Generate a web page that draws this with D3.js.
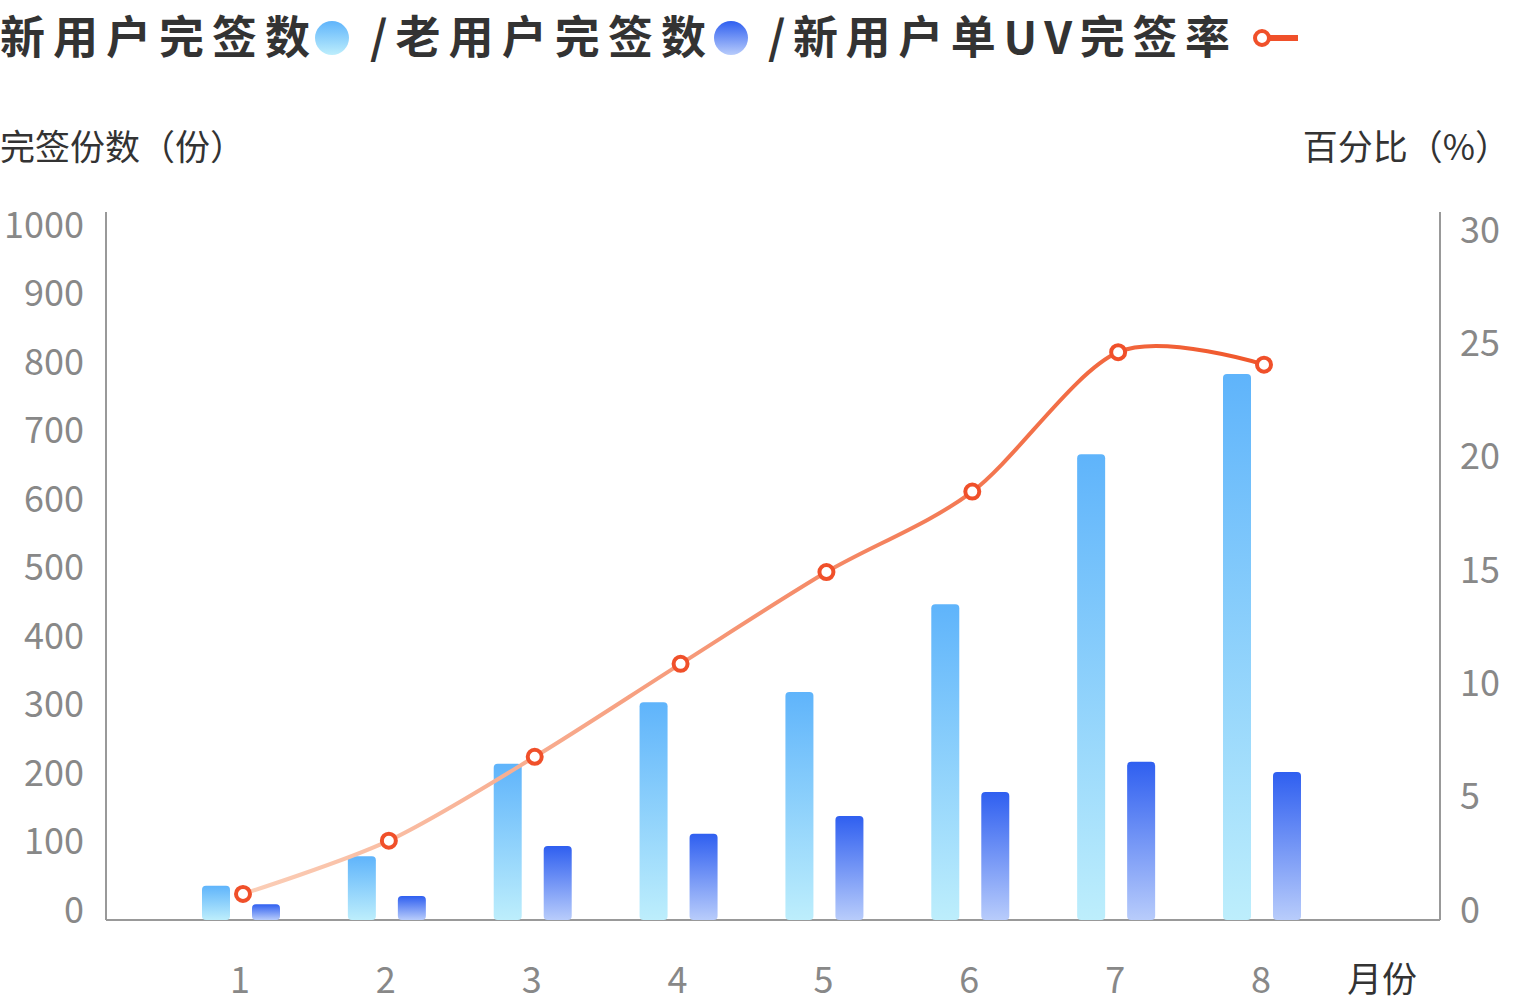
<!DOCTYPE html>
<html><head><meta charset="utf-8">
<script src="https://cdn.jsdelivr.net/npm/d3@7"></script>
<style>body{margin:0;background:#fff}text{font-family:"Noto Sans CJK SC","Noto Sans",sans-serif}</style>
</head><body>
<svg width="1532" height="1004"></svg>
<script>
var months = ["1", "2", "3", "4", "5", "6", "7", "8"];
var newUsers = [50, 93, 228, 318, 333, 461, 680, 797];
var oldUsers = [23, 35, 108, 126, 152, 187, 231, 216];
var newRate = [1.15, 3.5, 7.2, 11.3, 15.35, 18.9, 25.05, 24.5];
var leftTicks = [0, 100, 200, 300, 400, 500, 600, 700, 800, 900, 1000];
var rightTicks = [0, 5, 10, 15, 20, 25, 30];

var svg = d3.select("svg");
var defs = svg.append("defs");
function vgrad(id, top, bottom) {
    var g = defs.append("linearGradient").attr("id", id).attr("x1", 0).attr("y1", 0).attr("x2", 0).attr("y2", 1);
    g.append("stop").attr("offset", "0%").attr("stop-color", top);
    g.append("stop").attr("offset", "100%").attr("stop-color", bottom);
}
vgrad("gNew", "#5fb4fb", "#bdeefc");
vgrad("gOld", "#2f5ff0", "#b8ccfb");
var lg = defs.append("linearGradient").attr("id", "gLine").attr("gradientUnits", "userSpaceOnUse")
    .attr("x1", 240).attr("x2", 1261).attr("y1", 0).attr("y2", 0);
lg.append("stop").attr("offset", "0%").attr("stop-color", "#fbcfb8");
lg.append("stop").attr("offset", "100%").attr("stop-color", "#f0562a");

var x = d3.scalePoint().domain(months).range([240, 1261]);
var y = d3.scaleLinear().domain([0, 1000]).range([920, 235]);
var y2 = d3.scaleLinear().domain([0, 30]).range([920, 240]);

svg.append("line").attr("x1", 106).attr("x2", 106).attr("y1", 212).attr("y2", 920).attr("stroke", "#999").attr("stroke-width", 2);
svg.append("line").attr("x1", 1440).attr("x2", 1440).attr("y1", 212).attr("y2", 920).attr("stroke", "#999").attr("stroke-width", 2);
svg.append("line").attr("x1", 106).attr("x2", 1440).attr("y1", 920).attr("y2", 920).attr("stroke", "#999").attr("stroke-width", 2);

svg.selectAll(".lt").data(leftTicks).enter().append("text")
    .attr("x", 84).attr("y", function (d) { return y(d) - 10; }).attr("dy", "0.35em")
    .attr("text-anchor", "end").attr("font-size", 36).attr("fill", "#888").text(function (d) { return d; });
svg.selectAll(".rt").data(rightTicks).enter().append("text")
    .attr("x", 1460).attr("y", function (d) { return y2(d) - 10; }).attr("dy", "0.35em")
    .attr("font-size", 36).attr("fill", "#888").text(function (d) { return d; });
svg.selectAll(".xt").data(months).enter().append("text")
    .attr("x", function (d) { return x(d); }).attr("y", 980).attr("dy", "0.35em")
    .attr("text-anchor", "middle").attr("font-size", 36).attr("fill", "#888").text(function (d) { return d; });
svg.append("text").attr("x", 1382).attr("y", 980).attr("dy", "0.35em").attr("text-anchor", "middle")
    .attr("font-size", 35).attr("fill", "#333").text("月份");
svg.append("text").attr("x", 0).attr("y", 148).attr("dy", "0.35em").attr("font-size", 35).attr("fill", "#333").text("完签份数（份）");
svg.append("text").attr("x", 1510).attr("y", 148).attr("dy", "0.35em").attr("text-anchor", "end").attr("font-size", 35).attr("fill", "#333").text("百分比（%）");

svg.selectAll(".bn").data(newUsers).enter().append("rect")
    .attr("x", function (d, i) { return x(months[i]) - 38; }).attr("width", 28)
    .attr("y", function (d) { return y(d); }).attr("height", function (d) { return 920 - y(d); })
    .attr("rx", 4).attr("fill", "url(#gNew)");
svg.selectAll(".bo").data(oldUsers).enter().append("rect")
    .attr("x", function (d, i) { return x(months[i]) + 12; }).attr("width", 28)
    .attr("y", function (d) { return y(d); }).attr("height", function (d) { return 920 - y(d); })
    .attr("rx", 4).attr("fill", "url(#gOld)");

var line = d3.line().x(function (d, i) { return x(months[i]) + 3; }).y(function (d) { return y2(d); })
    .curve(d3.curveCardinal.tension(0.1));
svg.append("path").datum(newRate).attr("fill", "none").attr("stroke", "url(#gLine)")
    .attr("stroke-width", 4).attr("d", line);
svg.selectAll(".pt").data(newRate).enter().append("circle")
    .attr("cx", function (d, i) { return x(months[i]) + 3; }).attr("cy", function (d) { return y2(d); })
    .attr("r", 7).attr("fill", "#fff").attr("stroke", "#f0502a").attr("stroke-width", 4);

var leg = svg.append("g").attr("font-size", 45).attr("font-weight", "bold").attr("fill", "#333");
leg.append("text").attr("x", 0).attr("y", 38).attr("dy", "0.35em").attr("textLength", 310).text("新用户完签数");
svg.append("circle").attr("cx", 332).attr("cy", 38).attr("r", 17).attr("fill", "url(#gNew)");
leg.append("text").attr("x", 370).attr("y", 38).attr("dy", "0.35em").attr("textLength", 336).text("/老用户完签数");
svg.append("circle").attr("cx", 731).attr("cy", 38).attr("r", 17).attr("fill", "url(#gOld)");
leg.append("text").attr("x", 768).attr("y", 38).attr("dy", "0.35em").attr("textLength", 462).text("/新用户单UV完签率");
svg.append("line").attr("x1", 1262).attr("x2", 1298).attr("y1", 38).attr("y2", 38).attr("stroke", "#f0502a").attr("stroke-width", 6);
svg.append("circle").attr("cx", 1262).attr("cy", 38).attr("r", 7).attr("fill", "#fff").attr("stroke", "#f0502a").attr("stroke-width", 4);
</script>
</body></html>
